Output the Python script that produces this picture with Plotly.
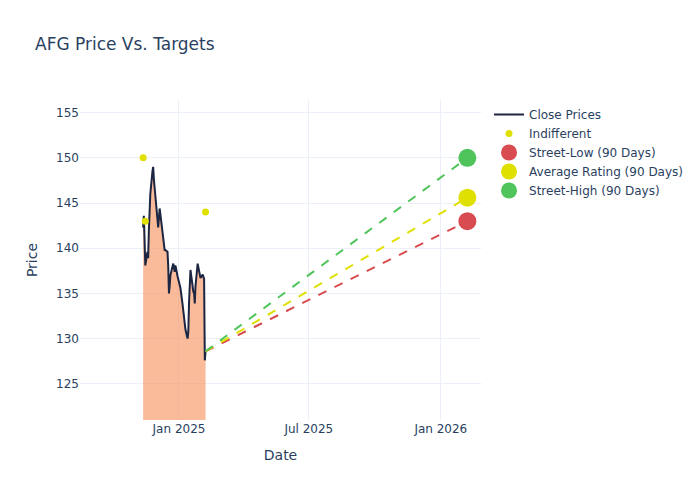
import plotly.graph_objects as go

dates = ["2024-11-12","2024-11-13","2024-11-14","2024-11-15","2024-11-18","2024-11-19","2024-11-20","2024-11-21","2024-11-22",
         "2024-11-25","2024-11-26","2024-11-27","2024-11-29","2024-12-02","2024-12-03","2024-12-04","2024-12-05","2024-12-06",
         "2024-12-09","2024-12-10","2024-12-11","2024-12-12","2024-12-13","2024-12-16","2024-12-17","2024-12-18","2024-12-19",
         "2024-12-20","2024-12-23","2024-12-24","2024-12-26","2024-12-27","2024-12-30","2024-12-31","2025-01-02","2025-01-03",
         "2025-01-06","2025-01-07","2025-01-08","2025-01-10","2025-01-13","2025-01-14","2025-01-15","2025-01-16","2025-01-17",
         "2025-01-21","2025-01-22","2025-01-23","2025-01-24","2025-01-27","2025-01-28","2025-01-29","2025-01-30","2025-01-31",
         "2025-02-03","2025-02-04","2025-02-05","2025-02-06","2025-02-07"]
close = [142.3,143.6,141.0,138.1,139.6,138.9,142.0,144.6,146.0,
         148.5,149.0,147.6,145.5,143.4,142.3,143.3,144.4,143.8,
         141.8,140.8,139.9,139.8,139.8,139.6,138.0,135.0,135.8,
         137.0,138.0,138.3,137.4,138.1,136.9,136.6,136.1,135.6,
         133.8,133.2,132.5,131.0,130.0,130.8,134.0,136.0,137.6,
         135.2,135.0,133.9,135.8,138.3,137.8,137.6,137.2,136.7,
         137.1,136.8,136.6,127.6,128.6]

indiff_dates = ["2024-11-12","2024-11-15","2025-02-07"]
indiff_prices = [150.0,143.0,144.0]

target_date = "2026-02-07"
target_names = ["Street-Low (90 Days)","Average Rating (90 Days)","Street-High (90 Days)"]
target_values = [143.0,145.6,150.0]
target_colors = ["#d84b50","#e0e000","#4fc45a"]

fig = go.Figure()
fig.add_trace(go.Scatter(x=dates, y=close, fill="tozeroy", mode="none",
                         fillcolor="rgba(247,150,100,0.65)", showlegend=False, hoverinfo="skip"))
fig.add_trace(go.Scatter(x=dates, y=close, mode="lines", name="Close Prices",
                         line=dict(color="#1c2541", width=2)))
fig.add_trace(go.Scatter(x=indiff_dates, y=indiff_prices, mode="markers", name="Indifferent",
                         marker=dict(color="#e0e000", size=7)))
for name, val, col in zip(target_names, target_values, target_colors):
    fig.add_trace(go.Scatter(x=[dates[-1], target_date], y=[close[-1], val], mode="lines",
                             line=dict(color=col, width=2, dash="dash"), showlegend=False))
for name, val, col in zip(target_names, target_values, target_colors):
    fig.add_trace(go.Scatter(x=[target_date], y=[val], mode="markers", name=name,
                             marker=dict(color=col, size=18)))

fig.update_layout(
    template="plotly_white",
    width=700, height=500,
    font=dict(family="DejaVu Sans"),
    title=dict(text="AFG Price Vs. Targets"),
    xaxis=dict(title="Date", range=["2024-08-16","2026-02-26"], dtick="M6", tick0="2025-01-01"),
    yaxis=dict(title="Price", range=[121.0,156.4], dtick=5),
)
fig.write_html("out.html", config={"displayModeBar": False},
               post_script="document.body.style.margin='0';document.body.style.overflow='hidden';")
